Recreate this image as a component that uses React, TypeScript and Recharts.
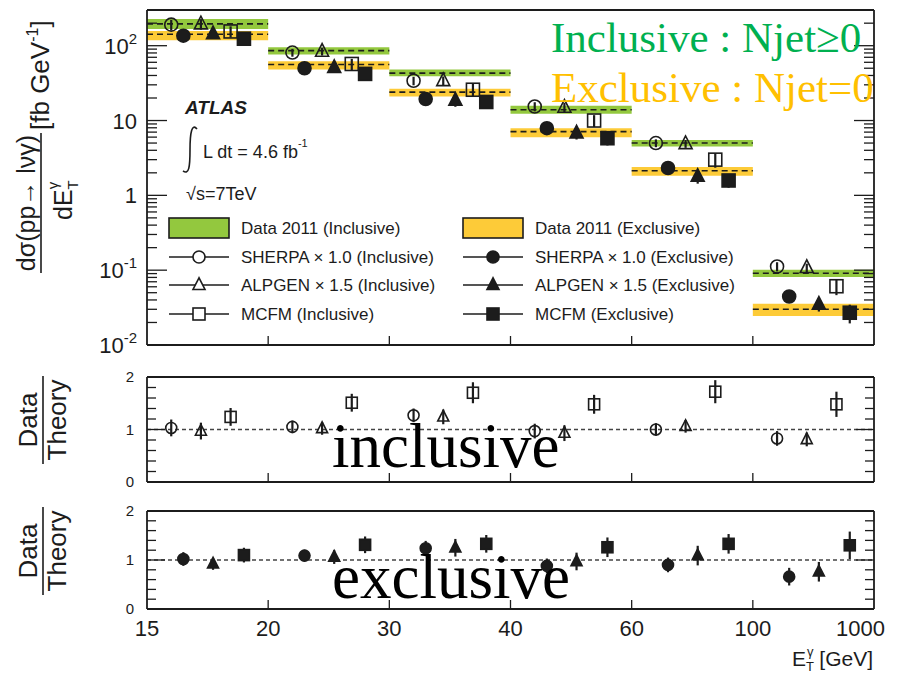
import React from 'react'
import { ComposedChart, Scatter, ErrorBar, XAxis, YAxis, ReferenceArea, ReferenceLine } from 'recharts'

// E_T^gamma bin edges [GeV], bins are drawn with equal width
const binEdges = ['15', '20', '30', '40', '60', '100', '1000']

// measured dσ/dE_T [fb/GeV] with the band edges (total uncertainty)
const dataInc = [196, 86, 43, 13.9, 5.0, 0.091]
const dataIncLow = [167, 76, 39, 12.3, 4.5, 0.081]
const dataIncHigh = [228, 95, 48, 15.8, 5.5, 0.101]
const dataExc = [142, 56, 24, 7.1, 2.13, 0.03]
const dataExcLow = [118, 48, 21, 6.0, 1.83, 0.0245]
const dataExcHigh = [157, 62, 26.6, 7.9, 2.39, 0.0356]

// predictions [fb/GeV]
const sherpaInc = [191, 81, 34, 15.4, 5.0, 0.112]
const alpgenInc = [195, 84, 34, 15.0, 4.9, 0.108]
const mcfmInc = [155, 57, 25.8, 10.0, 3.0, 0.061]
const sherpaExc = [136, 50, 19.4, 7.9, 2.32, 0.0445]
const alpgenExc = [144, 51, 18.6, 6.8, 1.79, 0.035]
const mcfmExc = [124, 42, 17.7, 5.8, 1.58, 0.027]

// data / theory
const ratioSherpaInc = [1.03, 1.05, 1.27, 0.97, 1.0, 0.83]
const ratioAlpgenInc = [0.97, 1.02, 1.24, 0.93, 1.06, 0.81]
const ratioMcfmInc = [1.24, 1.51, 1.7, 1.48, 1.72, 1.48]
const ratioSherpaExc = [1.02, 1.09, 1.24, 0.88, 0.9, 0.66]
const ratioAlpgenExc = [0.92, 1.06, 1.25, 0.97, 1.09, 0.76]
const ratioMcfmExc = [1.1, 1.31, 1.33, 1.26, 1.33, 1.3]

// relative uncertainties of each comparison
const uncSherpaInc = [0.16, 0.12, 0.13, 0.14, 0.12, 0.14]
const uncAlpgenInc = [0.16, 0.12, 0.14, 0.15, 0.12, 0.13]
const uncMcfmInc = [0.17, 0.17, 0.2, 0.18, 0.22, 0.24]
const uncSherpaExc = [0.14, 0.12, 0.15, 0.15, 0.15, 0.18]
const uncAlpgenExc = [0.12, 0.14, 0.18, 0.18, 0.2, 0.2]
const uncMcfmExc = [0.15, 0.17, 0.18, 0.2, 0.2, 0.28]

const logMajors = [0.01, 0.1, 1, 10, 100]
const logTicks = [...logMajors, ...[0.01, 0.1, 1, 10].flatMap((d) => [2, 3, 4, 5, 6, 7, 8, 9].map((m) => m * d)), 200]
const ratioMajors = [0, 1, 2]
const ratioTicks = [0, 0.2, 0.4, 0.6, 0.8, 1, 1.2, 1.4, 1.6, 1.8, 2]
const binTicks = [0, 1, 2, 3, 4, 5, 6]

const INK = '#1c1c1c'
const GREEN = '#93c83e'
const YELLOW = '#fdcb38'
const SANS = '"Liberation Sans", Arial, Helvetica, sans-serif'
const SERIF = '"Liberation Serif", "Times New Roman", serif'
const W = 897

type Kind = 'circle' | 'triangle' | 'square'

interface SeriesDef {
  id: string
  label: string
  kind: Kind
  filled: boolean
  pos: number
  values: number[]
  ratio: number[]
  unc: number[]
}

const incSeries: SeriesDef[] = [
  { id: 'sherpaInc', label: 'SHERPA × 1.0 (Inclusive)', kind: 'circle', filled: false, pos: 0.2, values: sherpaInc, ratio: ratioSherpaInc, unc: uncSherpaInc },
  { id: 'alpgenInc', label: 'ALPGEN × 1.5 (Inclusive)', kind: 'triangle', filled: false, pos: 0.445, values: alpgenInc, ratio: ratioAlpgenInc, unc: uncAlpgenInc },
  { id: 'mcfmInc', label: 'MCFM (Inclusive)', kind: 'square', filled: false, pos: 0.69, values: mcfmInc, ratio: ratioMcfmInc, unc: uncMcfmInc },
]

const excSeries: SeriesDef[] = [
  { id: 'sherpaExc', label: 'SHERPA × 1.0 (Exclusive)', kind: 'circle', filled: true, pos: 0.3, values: sherpaExc, ratio: ratioSherpaExc, unc: uncSherpaExc },
  { id: 'alpgenExc', label: 'ALPGEN × 1.5 (Exclusive)', kind: 'triangle', filled: true, pos: 0.545, values: alpgenExc, ratio: ratioAlpgenExc, unc: uncAlpgenExc },
  { id: 'mcfmExc', label: 'MCFM (Exclusive)', kind: 'square', filled: true, pos: 0.8, values: mcfmExc, ratio: ratioMcfmExc, unc: uncMcfmExc },
]

const Marker = ({ cx, cy, kind, filled, size, bg = 'none' }: { cx: number; cy: number; kind: Kind; filled: boolean; size: number; bg?: string }) => {
  const r = size / 2
  const style = { fill: filled ? INK : bg, stroke: INK, strokeWidth: 1.6 }
  if (kind === 'circle') return <circle cx={cx} cy={cy} r={r} {...style} />
  if (kind === 'square') return <rect x={cx - r} y={cy - r} width={size} height={size} {...style} />
  return <polygon points={`${cx},${cy - r * 1.2} ${cx - r},${cy + r * 0.75} ${cx + r},${cy + r * 0.75}`} {...style} />
}

// inward pointing ticks, labels only on the major values
const yTick = (side: 'left' | 'right', majors: number[], majorLen: number, minorLen: number, label?: (v: number, x: number, y: number) => React.ReactNode) =>
  (props: any) => {
    const { x, y, payload } = props
    const v = payload.value
    const major = majors.some((m) => Math.abs(m - v) < 1e-9)
    const dir = side === 'left' ? 1 : -1
    return (
      <g>
        <line x1={x} x2={x + dir * (major ? majorLen : minorLen)} y1={y} y2={y} stroke={INK} strokeWidth={1.3} />
        {major && label ? label(v, x, y) : null}
      </g>
    )
  }

const xTick = (side: 'top' | 'bottom', withLabels: boolean) => (props: any) => {
  const { x, y, payload } = props
  const i = payload.value as number
  const dir = side === 'bottom' ? -1 : 1
  const last = i === binEdges.length - 1
  return (
    <g>
      {i > 0 && !last && <line x1={x} x2={x} y1={y} y2={y + dir * 9} stroke={INK} strokeWidth={1.3} />}
      {withLabels && (
        <text x={last ? x + 11 : x} y={y + 27} textAnchor={last ? 'end' : 'middle'} fontFamily={SANS} fontSize={22} fill={INK}>
          {binEdges[i]}
        </text>
      )}
    </g>
  )
}

const logLabel = (v: number, x: number, y: number) => {
  const exp = Math.round(Math.log10(v))
  const common = { x: x - 10, y: y + 8, textAnchor: 'end' as const, fontFamily: SANS, fontSize: 22, fill: INK }
  if (exp === 0) return <text {...common}>1</text>
  if (exp === 1) return <text {...common}>10</text>
  return (
    <text {...common}>
      10<tspan fontSize={15} dy={-10}>{String(exp)}</tspan>
    </text>
  )
}

const ratioLabel = (v: number, x: number, y: number) => (
  <text x={x - 13} y={y + 5} textAnchor="end" fontFamily={SANS} fontSize={15} fill={INK}>
    {v}
  </text>
)

const frame = { stroke: INK, strokeWidth: 1.8 }

function axes(yProps: any, leftTick: any, rightTick: any, bottomLabels: boolean, bottomHeight: number) {
  return [
    <XAxis key="xb" xAxisId="b" type="number" dataKey="x" domain={[0, 6]} ticks={binTicks} interval={0} allowDataOverflow
      height={bottomHeight} tickSize={0} tickMargin={0} tickLine={false} axisLine={frame} tick={xTick('bottom', bottomLabels)} />,
    <XAxis key="xt" xAxisId="t" orientation="top" type="number" domain={[0, 6]} ticks={binTicks} interval={0} allowDataOverflow
      height={5} tickSize={0} tickMargin={0} tickLine={false} axisLine={frame} tick={xTick('top', false)} />,
    <YAxis key="yl" yAxisId="l" dataKey="y" type="number" {...yProps} interval={0} allowDataOverflow width={40}
      tickSize={0} tickMargin={0} tickLine={false} axisLine={frame} tick={leftTick} />,
    <YAxis key="yr" yAxisId="r" orientation="right" type="number" {...yProps} interval={0} allowDataOverflow width={10}
      tickSize={0} tickMargin={0} tickLine={false} axisLine={frame} tick={rightTick} />,
  ]
}

function seriesScatter(s: SeriesDef, rows: { x: number; y: number; err: number[] }[], size: number) {
  return (
    <Scatter key={s.id} name={s.label} data={rows} xAxisId="b" yAxisId="l" isAnimationActive={false}
      shape={(p: any) => <Marker cx={p.cx} cy={p.cy} kind={s.kind} filled={s.filled} size={size} />}>
      <ErrorBar dataKey="err" direction="y" width={0} stroke={INK} strokeWidth={2.2} />
    </Scatter>
  )
}

function CrossSectionPanel() {
  const yProps = { scale: 'log', domain: [0.01, 300], ticks: logTicks }
  const bands = [
    { v: dataInc, lo: dataIncLow, hi: dataIncHigh, color: GREEN, id: 'inc' },
    { v: dataExc, lo: dataExcLow, hi: dataExcHigh, color: YELLOW, id: 'exc' },
  ]
  return (
    <ComposedChart width={W} height={360} margin={{ top: 5, right: 13, left: 107, bottom: 10 }}>
      {axes(yProps, yTick('left', logMajors, 20, 10, logLabel), yTick('right', logMajors, 20, 10), false, 5)}
      {bands.flatMap((b) =>
        b.v.map((_, i) => (
          <ReferenceArea key={`${b.id}-a${i}`} xAxisId="b" yAxisId="l" x1={i} x2={i + 1} y1={b.lo[i]} y2={b.hi[i]}
            fill={b.color} fillOpacity={1} stroke="none" />
        ))
      )}
      {bands.flatMap((b) =>
        b.v.map((v, i) => (
          <ReferenceLine key={`${b.id}-l${i}`} xAxisId="b" yAxisId="l" segment={[{ x: i, y: v }, { x: i + 1, y: v }]}
            stroke={INK} strokeWidth={1.6} strokeDasharray="6 4" />
        ))
      )}
      {[...incSeries, ...excSeries].map((s) =>
        seriesScatter(s, s.values.map((v, i) => ({ x: i + s.pos, y: v, err: [v * s.unc[i], v * s.unc[i]] })), 13)
      )}
    </ComposedChart>
  )
}

function RatioPanel({ series, height, top, bottom, bottomLabels }: { series: SeriesDef[]; height: number; top: number; bottom: number; bottomLabels: boolean }) {
  const yProps = { domain: [0, 2], ticks: ratioTicks }
  const bottomHeight = bottomLabels ? 40 : 5
  return (
    <ComposedChart width={W} height={height} margin={{ top: top - 5, right: 13, left: 107, bottom: bottom - bottomHeight }}>
      {axes(yProps, yTick('left', ratioMajors, 18, 9, ratioLabel), yTick('right', ratioMajors, 18, 9), bottomLabels, bottomHeight)}
      <ReferenceLine xAxisId="b" yAxisId="l" y={1} stroke="#444" strokeWidth={1.3} strokeDasharray="4 3" />
      {series.map((s) => seriesScatter(s, s.ratio.map((v, i) => ({ x: i + s.pos, y: v, err: [s.unc[i], s.unc[i]] })), 11))}
    </ComposedChart>
  )
}

const RatioTitle = ({ cy }: { cy: number }) => (
  <g transform={`translate(43,${cy}) rotate(-90)`} fontFamily={SANS} fill={INK}>
    <text x={0} y={-6} textAnchor="middle" fontSize={26}>Data</text>
    <line x1={-44} x2={44} y1={0} y2={0} stroke={INK} strokeWidth={1.6} />
    <text x={0} y={23} textAnchor="middle" fontSize={26}>Theory</text>
  </g>
)

function LegendColumn({ x, color, caption, series }: { x: number; color: string; caption: string; series: SeriesDef[] }) {
  const rows = [228, 257, 285, 314]
  return (
    <g fontFamily={SANS} fill={INK}>
      <rect x={x} y={rows[0] - 10} width={60} height={20} fill={color} stroke={INK} strokeWidth={1.6} />
      <text x={x + 72} y={rows[0] + 6} fontSize={17}>{caption}</text>
      {series.map((s, k) => (
        <g key={s.id}>
          <line x1={x} x2={x + 60} y1={rows[k + 1]} y2={rows[k + 1]} stroke={INK} strokeWidth={1.6} />
          <Marker cx={x + 30} cy={rows[k + 1]} kind={s.kind} filled={s.filled} size={12} bg="#fff" />
          <text x={x + 72} y={rows[k + 1] + 6} fontSize={17}>{s.label}</text>
        </g>
      ))}
    </g>
  )
}

function Annotations() {
  return (
    <svg width={W} height={675} style={{ position: 'absolute', left: 0, top: 0, pointerEvents: 'none' }}>
      {/* y title of the cross-section panel */}
      <g transform="translate(41,203) rotate(-90)" fontFamily={SANS} fill={INK}>
        <text x={0} y={-6} textAnchor="middle" fontSize={25}>dσ(pp→ lνγ)</text>
        <line x1={-70} x2={70} y1={0} y2={0} stroke={INK} strokeWidth={1.6} />
        <text x={-17} y={31} fontSize={25}>
          dE<tspan fontSize={15} dy={6}>T</tspan>
          <tspan fontSize={15} dx={-9} dy={-20}>γ</tspan>
        </text>
        <text x={73} y={8} fontSize={26}>
          [fb GeV<tspan fontSize={16} dy={-11}>-1</tspan>
          <tspan dy={11}>]</tspan>
        </text>
      </g>
      <RatioTitle cy={420} />
      <RatioTitle cy={551} />

      <g fontFamily={SANS} fill={INK}>
        <text x={185} y={114} fontSize={19} fontWeight="bold" fontStyle="italic">ATLAS</text>
        <path d="M197,129 C192,123 190,132 190,150 C190,167 189,175 183,171" fill="none" stroke={INK} strokeWidth={1.6} />
        <text x={203} y={158} fontSize={18}>
          L dt = 4.6 fb<tspan fontSize={11} dy={-11}>-1</tspan>
        </text>
        <text x={186} y={200} fontSize={18}>√s=7TeV</text>
      </g>

      <LegendColumn x={169} color={GREEN} caption="Data 2011 (Inclusive)" series={incSeries} />
      <LegendColumn x={463} color={YELLOW} caption="Data 2011 (Exclusive)" series={excSeries} />

      <g fontFamily={SERIF}>
        <text x={551} y={52} fontSize={43} fill="#00b050">Inclusive : Njet≥0</text>
        <text x={551} y={102} fontSize={43} fill="#ffc000">Exclusive : Njet=0</text>
        <text x={332} y={467} fontSize={63} fill="#000">inclusive</text>
        <text x={332} y={598} fontSize={63} fill="#000">exclusive</text>
      </g>

      <text x={873} y={666} textAnchor="end" fontFamily={SANS} fontSize={21} fill={INK}>
        E<tspan fontSize={13} dy={5}>T</tspan>
        <tspan fontSize={13} dx={-7} dy={-15}>γ</tspan>
        <tspan dy={10}> [GeV]</tspan>
      </text>
    </svg>
  )
}

export default function App() {
  return (
    <div style={{ position: 'absolute', left: 0, top: 0, width: W, height: 675, background: '#fff' }}>
      <div style={{ position: 'absolute', left: 0, top: 0 }}>
        <CrossSectionPanel />
      </div>
      <div style={{ position: 'absolute', left: 0, top: 360 }}>
        <RatioPanel series={incSeries} height={130} top={17} bottom={8} bottomLabels={false} />
      </div>
      <div style={{ position: 'absolute', left: 0, top: 490 }}>
        <RatioPanel series={excSeries} height={185} top={21} bottom={66} bottomLabels={true} />
      </div>
      <Annotations />
    </div>
  )
}
